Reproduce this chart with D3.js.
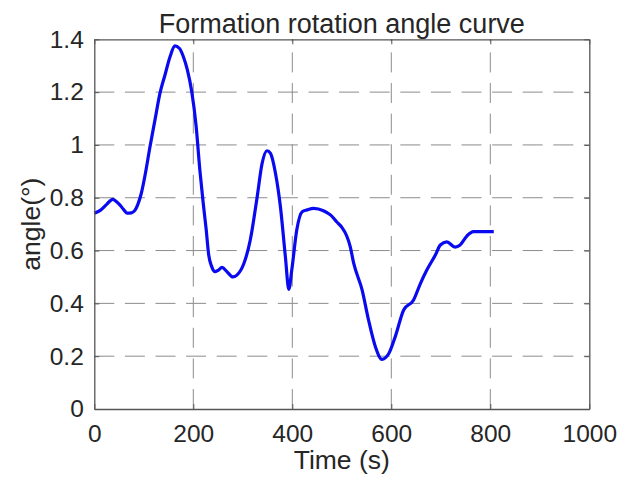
<!DOCTYPE html>
<html>
<head>
<meta charset="utf-8">
<script src="https://cdn.jsdelivr.net/npm/d3@7"></script>
<style>
  html, body { margin: 0; padding: 0; background: #ffffff; }
  svg { display: block; }
  text { font-family: "Liberation Sans", Arial, Helvetica, sans-serif; fill: #262626; }
</style>
</head>
<body>
<svg id="chart" width="630" height="479"></svg>
<script>
// ---- data ----
const timeSeconds = [0, 12, 25, 37, 45, 52, 59, 66, 75, 82, 88, 95, 103, 112.5, 122.6, 132.7, 142.8, 153, 163, 171.7, 180, 188, 196.8, 205.5, 213.5, 220, 226, 231, 237, 244, 250, 258, 268, 280, 288, 302, 315, 329, 339, 349, 356, 366, 376, 386, 393, 399, 409, 420, 430, 443, 463, 477, 490, 500, 510, 517, 524, 541, 554, 568, 581, 595, 608, 625, 645, 659, 672, 689, 699, 712, 729, 739, 753, 766, 790, 807];
const angleDeg    = [0.741, 0.752, 0.775, 0.794, 0.785, 0.772, 0.756, 0.742, 0.743, 0.752, 0.775, 0.817, 0.89, 0.993, 1.095, 1.196, 1.265, 1.334, 1.375, 1.366, 1.334, 1.284, 1.202, 1.075, 0.9, 0.78, 0.68, 0.585, 0.54, 0.52, 0.525, 0.536, 0.52, 0.5, 0.507, 0.55, 0.639, 0.803, 0.93, 0.978, 0.968, 0.893, 0.766, 0.577, 0.453, 0.527, 0.678, 0.747, 0.754, 0.76, 0.751, 0.735, 0.708, 0.688, 0.655, 0.615, 0.552, 0.451, 0.337, 0.235, 0.188, 0.21, 0.274, 0.375, 0.413, 0.476, 0.527, 0.583, 0.621, 0.633, 0.613, 0.621, 0.656, 0.672, 0.672, 0.672];
const xTicks = [0, 200, 400, 600, 800, 1000];
const yTicks = [0, 0.2, 0.4, 0.6, 0.8, 1, 1.2, 1.4];
const titleText = "Formation rotation angle curve";
const xLabelText = "Time (s)";
const yLabelText = "angle(°)";

// ---- layout ----
const L = 94.3, R = 589.3, T = 39.3, B = 409;
const svg = d3.select("#chart");
const x = d3.scaleLinear().domain([0, 1000]).range([L, R]);
const y = d3.scaleLinear().domain([0, 1.4]).range([B, T]);

const gridColor = "#8c8c8c";
const axisColor = "#555555";

// grid lines
const grid = svg.append("g");
grid.selectAll(".gy").data(yTicks.filter(d => d > 0 && d < 1.4)).join("line")
  .attr("x1", L).attr("x2", R).attr("y1", d => y(d)).attr("y2", d => y(d))
  .attr("stroke", gridColor).attr("stroke-width", 1).attr("stroke-dasharray", "20,10.6");
grid.selectAll(".gx").data(xTicks.filter(d => d > 0 && d < 1000)).join("line")
  .attr("x1", d => x(d)).attr("x2", d => x(d)).attr("y1", B).attr("y2", T)
  .attr("stroke", gridColor).attr("stroke-width", 1).attr("stroke-dasharray", "20,10.6");

// data line
const line = d3.line().x((d, i) => x(timeSeconds[i])).y((d, i) => y(angleDeg[i])).curve(d3.curveMonotoneX);
svg.append("path").datum(angleDeg).attr("d", line)
  .attr("fill", "none").attr("stroke", "#0a0af0").attr("stroke-width", 3.2)
  .attr("stroke-linejoin", "round").attr("stroke-linecap", "butt");

// axes
const fmt = d => String(+d.toFixed(2));
const styleAxis = (g, hideLabels) => {
  g.select(".domain").attr("stroke", axisColor).attr("stroke-width", 1.3);
  g.selectAll(".tick line").attr("stroke", axisColor).attr("stroke-width", 1);
  g.selectAll(".tick text").attr("font-size", 24.5).attr("fill", "#262626")
    .attr("font-family", '"Liberation Sans", Arial, sans-serif');
  if (hideLabels) g.selectAll(".tick text").remove();
};
svg.append("g").attr("transform", `translate(0,${B})`)
  .call(d3.axisBottom(x).tickValues(xTicks).tickFormat(fmt).tickSizeInner(-5).tickSizeOuter(0).tickPadding(15.5))
  .call(g => styleAxis(g, false));
svg.append("g").attr("transform", `translate(0,${T})`)
  .call(d3.axisTop(x).tickValues(xTicks).tickSizeInner(-5).tickSizeOuter(0))
  .call(g => styleAxis(g, true));
svg.append("g").attr("transform", `translate(${L},0)`)
  .call(d3.axisLeft(y).tickValues(yTicks).tickFormat(fmt).tickSizeInner(-5).tickSizeOuter(0).tickPadding(10.5))
  .call(g => styleAxis(g, false));
svg.append("g").attr("transform", `translate(${R},0)`)
  .call(d3.axisRight(y).tickValues(yTicks).tickSizeInner(-5).tickSizeOuter(0))
  .call(g => styleAxis(g, true));

// texts
svg.append("text").attr("x", (L + R) / 2).attr("y", 33).attr("text-anchor", "middle")
  .attr("font-size", 27).text(titleText);
svg.append("text").attr("x", (L + R) / 2).attr("y", 469).attr("text-anchor", "middle")
  .attr("font-size", 26.5).text(xLabelText);
svg.append("text").attr("transform", `translate(40,${(T + B) / 2}) rotate(-90)`).attr("text-anchor", "middle")
  .attr("font-size", 26.5).text(yLabelText);
</script>
</body>
</html>
